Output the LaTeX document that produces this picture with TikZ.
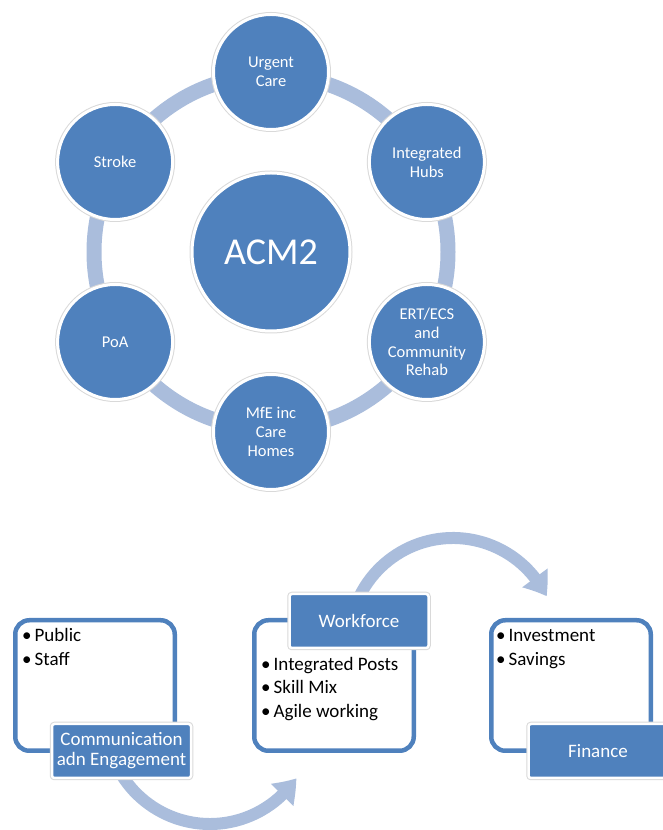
\documentclass[tikz,border=0pt]{standalone}
\usepackage{fontspec}
\setmainfont{Carlito}
\usetikzlibrary{arrows.meta,bending,calc}
\definecolor{acc}{HTML}{4F81BD}
\definecolor{ringc}{HTML}{AABDDC}
\begin{document}
\begin{tikzpicture}[x=1pt,y=1pt,
  sat/.style={circle, minimum size=115pt, inner sep=0pt, fill=acc, draw=white, line width=3pt, text=white, align=center, font=\fontsize{16.5}{18.7}\selectfont, preaction={draw=black!15, line width=5pt}},
  hub/.style={sat, minimum size=158pt, font=\fontsize{38}{40}\selectfont},
  outbox/.style={draw=acc, line width=4.5pt, rounded corners=14pt, fill=white, minimum width=159.5pt, minimum height=130.5pt, inner sep=0pt},
  lab/.style={rectangle, fill=acc, draw=white, line width=2.5pt, rounded corners=2.5pt, minimum width=139pt, minimum height=54pt, inner sep=0pt, text=white, align=center, font=\fontsize{19}{20}\selectfont, preaction={draw=black!15, line width=4.5pt}},
  item/.style={anchor=base west, inner sep=0pt, font=\fontsize{19}{24}\selectfont},
  flow/.style={draw=ringc, line width=12pt, -{Triangle[width=30pt,length=22pt,bend]}}
]
\useasboundingbox (0,0) rectangle (663,830);
% cycle
\coordinate (c) at (271,578);
\draw[ringc, line width=15pt] (c) circle[radius=177];
\node[hub] (acm) at (c) {ACM2};
\node[sat] (urg) at ($(c)+(90:180)$) {Urgent\\Care};
\node[sat] (hub) at ($(c)+(30:180)$) {Integrated\\Hubs};
\node[sat] (ert) at ($(c)+(-30:180)$) {ERT/ECS\\and\\Community\\Rehab};
\node[sat] (mfe) at ($(c)+(-90:180)$) {MfE inc\\Care\\Homes};
\node[sat] (poa) at ($(c)+(-150:180)$) {PoA};
\node[sat] (str) at ($(c)+(150:180)$) {Stroke};
% boxes
\node[outbox] (b1) at (95,144.5) {};
\node[outbox] (b2) at (334,144.5) {};
\node[outbox] (b3) at (571,144.5) {};
% items
\node[item] (i11) at (22,188) {\textbullet\hspace{3pt}Public};
\node[item] (i12) at (22,164) {\textbullet\hspace{3pt}Staff};
\node[item] (i21) at (261,159) {\textbullet\hspace{3pt}Integrated Posts};
\node[item] (i22) at (261,136) {\textbullet\hspace{3pt}Skill Mix};
\node[item] (i23) at (261,112) {\textbullet\hspace{3pt}Agile working};
\node[item] (i31) at (496,188) {\textbullet\hspace{3pt}Investment};
\node[item] (i32) at (496,164) {\textbullet\hspace{3pt}Savings};
% arrows
\coordinate (a1) at (210,110);
\coordinate (a2) at (453,188);
\draw[flow] ([shift={(200:104)}]a1) arc[start angle=200, end angle=326, radius=104];
\draw[flow] ([shift={(165:104)}]a2) arc[start angle=165, end angle=26, radius=104];
% labels
\node[lab] (l1) at (121.5,79) {Communication\\adn Engagement};
\node[lab] (l2) at (359,209) {Workforce};
\node[lab] (l3) at (598,79) {Finance};
\end{tikzpicture}
\end{document}
